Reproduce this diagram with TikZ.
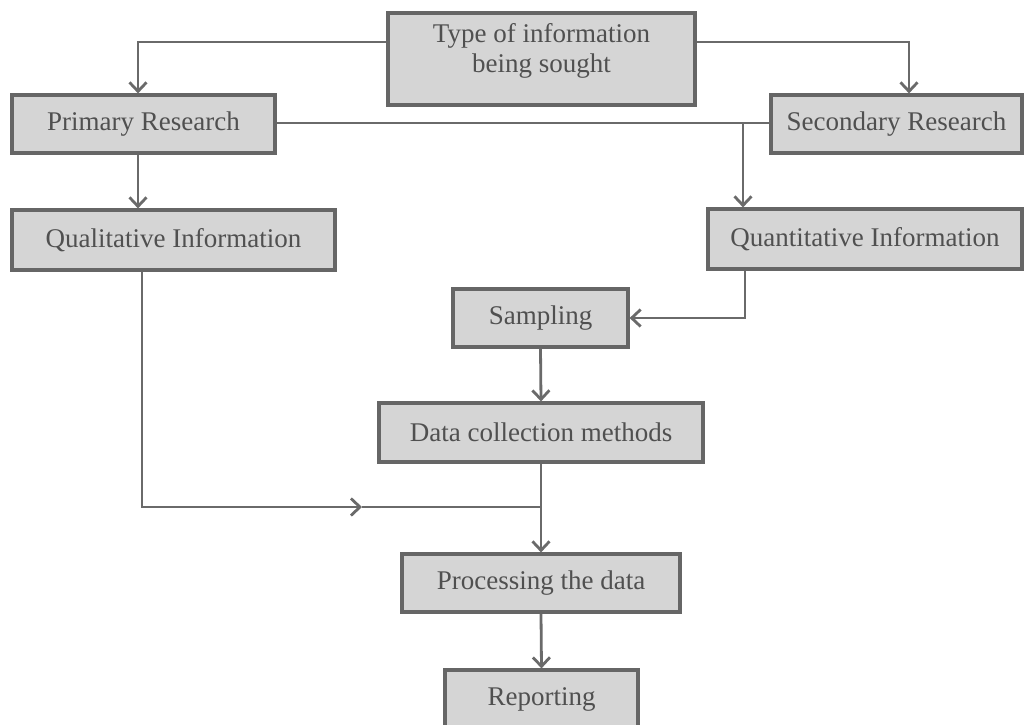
\documentclass[tikz,border=0pt]{standalone}
\usepackage{fontspec}
\setmainfont{Liberation Serif}
\usetikzlibrary{arrows.meta}
\definecolor{boxfill}{HTML}{D5D5D5}
\definecolor{boxline}{HTML}{666666}
\definecolor{txt}{HTML}{505050}
\definecolor{conn}{HTML}{6A6A6A}
\begin{document}
\begin{tikzpicture}[x=1pt,y=-1pt,
  box/.style={draw=boxline, fill=boxfill, line width=3.2pt, inner sep=0pt, text=txt,
    font=\fontsize{27}{31}\selectfont},
  lbl/.style={text=txt, font=\fontsize{27}{30}\selectfont, align=center, inner sep=0pt},
  conn/.style={draw=conn, line width=2.8pt},
  arr/.style={conn, -{Straight Barb[length=9pt,width=17pt,line width=2.8pt]}}]
\useasboundingbox[fill=white] (0,0) rectangle (1025,724);
% boxes
\node[box, minimum width=307pt, minimum height=92pt] (type) at (541.5,59) {};
\node[lbl] (typetext) at (541.5,51) {Type of information\\being sought};
\node[box, minimum width=263pt, minimum height=58pt] (primary) at (143.5,124) {Primary Research};
\node[box, minimum width=251pt, minimum height=58pt] (secondary) at (896.5,124) {Secondary Research};
\node[box, minimum width=323pt, minimum height=60pt] (qual) at (173.5,240) {Qualitative Information};
\node[box, minimum width=314pt, minimum height=60pt] (quant) at (865,239) {Quantitative Information};
\node[box, minimum width=175pt, minimum height=58pt] (samp) at (540.5,318) {Sampling};
\node[box, minimum width=324pt, minimum height=59pt] (data) at (541,432.5) {Data collection methods};
\node[box, minimum width=278pt, minimum height=58pt] (proc) at (541,583) {Processing the data};
\node[box, minimum width=193pt, minimum height=58pt] (rep) at (541.5,699) {Reporting};
% helper coordinates
\coordinate (tl) at (138,42);
\coordinate (tr) at (909,42);
\coordinate (j1) at (743,123);
\coordinate (qdown) at (142,507);
\coordinate (mid) at (362,507);
\coordinate (j2) at (541,507);
\coordinate (qs) at (745,313);
% connectors
\draw[arr] (type.west |- tl) -| (tl |- primary.north);
\draw[arr] (type.east |- tr) -| (tr |- secondary.north);
\draw[conn] (primary.east |- j1) -- (secondary.west |- j1);
\draw[arr] (j1) -- (j1 |- quant.north);
\draw[arr] (primary.south -| tl) -- (qual.north -| tl);
\draw[arr] (qual.south -| qdown) |- (mid);
\draw[conn] (mid) -- (j2);
\draw[arr] (quant.south -| qs) |- (samp.east);
\draw[arr] (samp.south) -- (data.north);
\draw[arr] (data.south) -- (proc.north);
\draw[arr] (proc.south) -- (rep.north);
\end{tikzpicture}
\end{document}
